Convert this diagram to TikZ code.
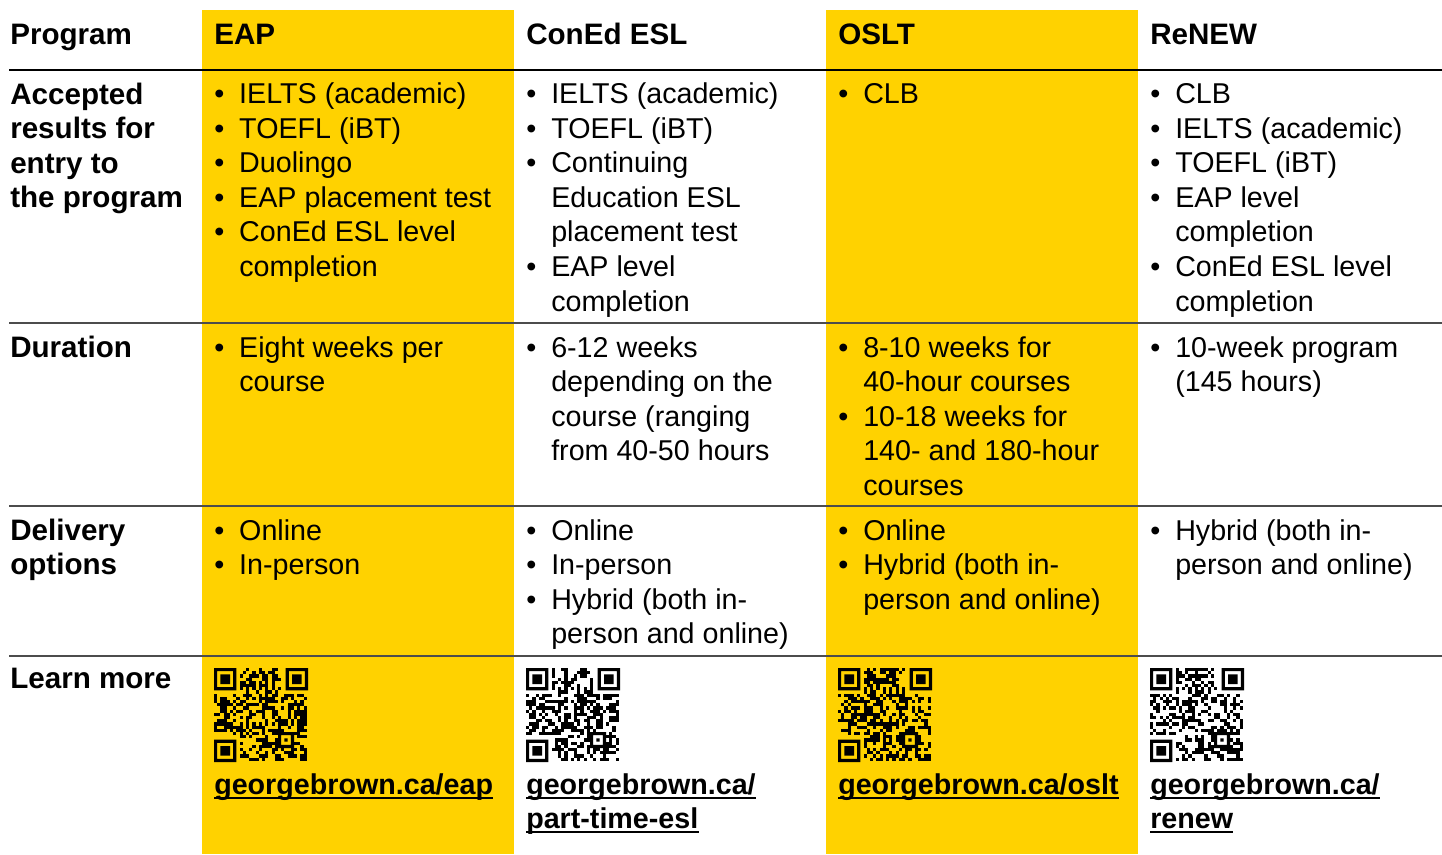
\documentclass[tikz,border=0pt]{standalone}
\usepackage{fontspec}
\setmainfont{Liberation Sans}
\definecolor{gbyellow}{HTML}{FFD200}
\newcommand\bltm{\llap{\makebox[30pt][c]{•}}}
\tikzset{
  body/.style={font=\fontsize{21.5}{26}\selectfont, inner sep=0pt, anchor=base west, text=black},
  head/.style={font=\fontsize{22.2}{26}\selectfont\bfseries, inner sep=0pt, anchor=base west, text=black},
  urltext/.style={font=\fontsize{21.5}{26}\selectfont\bfseries, inner sep=0pt, anchor=base west, text=black},
  tabrule/.style={line width=1.1pt, draw=black!70},
  toprule/.style={line width=1.9pt, draw=black},
  ulin/.style={line width=1.4pt, draw=black},
  colband/.style={fill=gbyellow},
}
% one node per printed line: name, x, first baseline y, style, lines
\newcommand\cellt[5]{\foreach \t [count=\k] in {#5}{\node[#4] (#1-\k) at (#2,{#3+(\k-1)*34.6}) {\t};}}
% QR-like block: x, y, seed
\newcommand\qrblock[3]{%
  \pgfmathsetseed{#3}%
  \foreach \i in {0,...,28}{%
    \foreach \j in {0,...,28}{%
      \pgfmathtruncatemacro\qskip{((\i<8)&&(\j<8))||((\i>20)&&(\j<8))||((\i<8)&&(\j>20))||(\i==6)||(\j==6)||((\i>19)&&(\i<25)&&(\j>19)&&(\j<25))}%
      \ifnum\qskip=0
        \pgfmathrandominteger{\qbit}{0}{1}%
        \ifnum\qbit=1
          \fill ({#1+\i*3.2},{#2+\j*3.2}) rectangle ++(3.2,3.2);
        \fi
      \fi
    }%
  }%
  \foreach \fx/\fy in {0/0,22.4/0,0/22.4}{%
    \fill[even odd rule] ({#1+\fx*3.2},{#2+\fy*3.2}) rectangle ++(22.4,22.4)
      ({#1+\fx*3.2+3.2},{#2+\fy*3.2+3.2}) rectangle ++(16,16)
      ({#1+\fx*3.2+6.4},{#2+\fy*3.2+6.4}) rectangle ++(9.6,9.6);
  }%
  \fill[even odd rule] ({#1+20*3.2},{#2+20*3.2}) rectangle ++(16,16)
      ({#1+21*3.2},{#2+21*3.2}) rectangle ++(9.6,9.6)
      ({#1+22*3.2},{#2+22*3.2}) rectangle ++(3.2,3.2);
  \foreach \k in {8,10,...,20}{%
    \fill ({#1+\k*3.2},{#2+6*3.2}) rectangle ++(3.2,3.2);
    \fill ({#1+6*3.2},{#2+\k*3.2}) rectangle ++(3.2,3.2);
  }%
}
\begin{document}
\begin{tikzpicture}[x=0.75pt,y=-0.75pt]
\useasboundingbox (0,0) rectangle (1442,854);
\fill[white] (0,0) rectangle (1442,854);
% yellow columns
\fill[colband] (202,10) rectangle (514,854);
\fill[colband] (826,10) rectangle (1138,854);
% rules
\coordinate (r0a) at (9,70);  \coordinate (r0b) at (1442,70);
\coordinate (r1a) at (9,323); \coordinate (r1b) at (1442,323);
\coordinate (r2a) at (9,506); \coordinate (r2b) at (1442,506);
\coordinate (r3a) at (9,656); \coordinate (r3b) at (1442,656);
\draw[toprule] (r0a) -- (r0b);
\draw[tabrule] (r1a) -- (r1b);
\draw[tabrule] (r2a) -- (r2b);
\draw[tabrule] (r3a) -- (r3b);
% header row
\node[head] (h0) at (10,44) {Program};
\node[head] (h1) at (214,44) {EAP};
\node[head] (h2) at (526,44) {ConEd ESL};
\node[head] (h3) at (838,44) {OSLT};
\node[head] (h4) at (1150,44) {ReNEW};
% accepted results row
\cellt{acc}{10}{104}{head}{Accepted,results for,entry to,the program}
\cellt{eapacc}{239}{103.5}{body}{\bltm IELTS (academic),\bltm TOEFL (iBT),\bltm Duolingo,\bltm EAP placement test,\bltm ConEd ESL level,completion}
\cellt{conacc}{551}{103.5}{body}{\bltm IELTS (academic),\bltm TOEFL (iBT),\bltm Continuing,Education ESL,placement test,\bltm EAP level,completion}
\cellt{oslacc}{863}{103.5}{body}{\bltm CLB}
\cellt{renacc}{1175}{103.5}{body}{\bltm CLB,\bltm IELTS (academic),\bltm TOEFL (iBT),\bltm EAP level,completion,\bltm ConEd ESL level,completion}
% duration row
\cellt{dur}{10}{357}{head}{Duration}
\cellt{eapdur}{239}{357}{body}{\bltm Eight weeks per,course}
\cellt{condur}{551}{357}{body}{\bltm 6-12 weeks,depending on the,course (ranging,from 40-50 hours}
\cellt{osldur}{863}{357}{body}{\bltm 8-10 weeks for,40-hour courses,\bltm 10-18 weeks for,140- and 180-hour,courses}
\cellt{rendur}{1175}{357}{body}{\bltm 10-week program,(145 hours)}
% delivery row
\cellt{del}{10}{540}{head}{Delivery,options}
\cellt{eapdel}{239}{540}{body}{\bltm Online,\bltm In-person}
\cellt{condel}{551}{540}{body}{\bltm Online,\bltm In-person,\bltm Hybrid (both in-,person and online)}
\cellt{osldel}{863}{540}{body}{\bltm Online,\bltm Hybrid (both in-,person and online)}
\cellt{rendel}{1175}{540}{body}{\bltm Hybrid (both in-,person and online)}
% learn more row
\cellt{lrn}{10}{688}{head}{Learn more}
\qrblock{214}{668}{11}
\qrblock{526}{668}{23}
\qrblock{838}{668}{37}
\qrblock{1150}{668}{51}
\cellt{eapurl}{214}{794}{urltext}{georgebrown.ca/eap}
\cellt{conurl}{526}{794}{urltext}{georgebrown.ca/,part-time-esl}
\cellt{oslurl}{838}{794}{urltext}{georgebrown.ca/oslt}
\cellt{renurl}{1150}{794}{urltext}{georgebrown.ca/,renew}
\foreach \u in {eapurl-1,conurl-1,conurl-2,oslurl-1,renurl-1,renurl-2}{
  \draw[ulin] ([yshift=-2.7pt]\u.base west) -- ([yshift=-2.7pt]\u.base east);
}
\end{tikzpicture}
\end{document}
